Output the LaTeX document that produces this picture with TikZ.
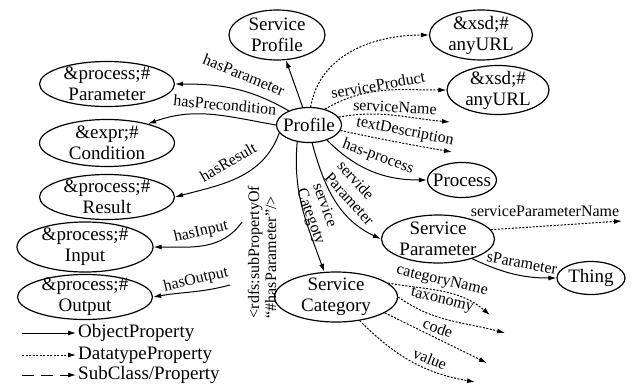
\documentclass[tikz,border=0pt]{standalone}
\usepackage{fontspec}
\setmainfont{Liberation Serif}
\usepackage{tikz}
\usetikzlibrary{shapes.geometric,arrows.meta}

\newcommand{\entsize}{\fontsize{19}{21}\selectfont}
\newcommand{\lblsize}{\fontsize{16}{17}\selectfont}

\begin{document}
\begin{tikzpicture}[x=1pt, y=1pt,
	ent/.style={ellipse, draw, line width=1.2pt, inner xsep=-8pt, inner ysep=-8pt, align=center, font=\entsize},
	lbl/.style={inner sep=0pt, font=\lblsize},
	obj/.style={line width=1pt, -{Latex[length=8pt, width=5pt]}},
	dat/.style={line width=1pt, dash pattern=on 2pt off 1.5pt, -{Latex[length=8pt, width=5pt]}},
	sub/.style={line width=1pt, dash pattern=on 12pt off 7pt, -{Latex[length=8pt, width=5pt]}}]
	\useasboundingbox (0,0) rectangle (640,-386);

	% classes
	\node[ent, minimum width=65pt, minimum height=35pt] (prof) at (309,-125) {Profile};
	\node[ent, minimum width=96pt, minimum height=50pt] (sprof) at (277,-35) {Service\\Profile};
	\node[ent, minimum width=135pt, minimum height=45pt] (par) at (107,-84) {\&process;\#\\Parameter};
	\node[ent, minimum width=135pt, minimum height=47pt] (cond) at (107,-143) {\&expr;\#\\Condition};
	\node[ent, minimum width=135pt, minimum height=45pt] (res) at (107,-197) {\&process;\#\\Result};
	\node[ent, minimum width=136pt, minimum height=50pt] (inp) at (85,-247) {\&process;\#\\Input};
	\node[ent, minimum width=135pt, minimum height=45pt] (outp) at (85,-297) {\&process;\#\\Output};
	\node[ent, minimum width=103pt, minimum height=50pt] (url1) at (481,-35) {\&xsd;\#\\anyURL};
	\node[ent, minimum width=102pt, minimum height=49pt] (url2) at (498,-90) {\&xsd;\#\\anyURL};
	\node[ent, minimum width=69pt, minimum height=35pt] (proc) at (462,-180) {Process};
	\node[ent, minimum width=113pt, minimum height=48pt] (spar) at (438,-239) {Service\\Parameter};
	\node[ent, minimum width=68pt, minimum height=33pt] (thing) at (591,-278) {Thing};
	\node[ent, minimum width=123pt, minimum height=50pt] (scat) at (336,-297) {Service\\Category};

	% free ends
	\coordinate (inS) at (242,-222);
	\coordinate (outS) at (230,-285);
	\coordinate (sname) at (450,-122);
	\coordinate (tdesc) at (452,-152);
	\coordinate (spname) at (622,-221);
	\coordinate (cname) at (490,-315);
	\coordinate (taxo) at (505,-333);
	\coordinate (codeE) at (487,-363);
	\coordinate (valE) at (475,-382);

	% object properties
	\draw[obj] (prof) -- (sprof);
	\draw[obj] (prof.145) to[out=150, in=0] (par.east);
	\draw[obj] (prof.west) to[out=170, in=20] (cond.25);
	\draw[obj] (prof.195) to[out=250, in=15] (res.east);
	\draw[obj] (inS) to[out=235, in=0] (inp.east);
	\draw[obj] (outS) to[out=195, in=10] (outp.east);
	\draw[obj] (prof.235) to[out=265, in=110] (scat.115);
	\draw[obj] (prof.280) to[out=285, in=155] (spar.west);
	\draw[obj] (prof.320) to[out=-45, in=180] (proc.west);
	\draw[obj] (spar.330) to[out=-25, in=180] (thing.west);

	% datatype properties
	\draw[dat] (prof.85) to[out=80, in=180] (url1.west);
	\draw[dat] (prof.45) to[out=30, in=180] (url2.west);
	\draw[dat] (prof.15) to[out=10, in=175] (sname);
	\draw[dat] (prof.350) to[out=-12, in=170] (tdesc);
	\draw[dat] (spar.10) -- (spname);
	\draw[dat] (scat.15) to[out=-10, in=140] (cname);
	\draw[dat] (scat.east) to[out=-35, in=165] (taxo);
	\draw[dat] (scat.-18) -- (codeE);
	\draw[dat] (scat.315) to[out=-45, in=170] (valE);

	% labels
	\node[lbl, rotate=-22] (lPar) at (244,-75) {hasParameter};
	\node[lbl, rotate=-5] (lCond) at (225,-105) {hasPrecondition};
	\node[lbl, rotate=30] (lRes) at (228,-162) {hasResult};
	\node[lbl, rotate=13] (lIn) at (201,-232) {hasInput};
	\node[lbl, rotate=13] (lOut) at (196,-280) {hasOutput};
	\node[lbl, rotate=90, align=left] (lSub) at (262,-252) {<rdfs:subPropertyOf\\“\#hasParameter”/>};
	\node[lbl, rotate=-70, align=left] (lCat) at (318,-214) {service\\Categoty};
	\node[lbl, rotate=-48, align=left] (lSPar) at (356,-193) {servide\\Parameter};
	\node[lbl, rotate=-20] (lProc) at (378,-157) {has-process};
	\node[lbl, rotate=10] (lProd) at (378,-85) {serviceProduct};
	\node[lbl, rotate=-3] (lName) at (395,-107) {serviceName};
	\node[lbl, rotate=-11] (lDesc) at (405,-132) {textDescription};
	\node[lbl] (lSPN) at (545,-211) {serviceParameterName};
	\node[lbl, rotate=-10] (lSP) at (522,-263) {sParameter};
	\node[lbl, rotate=-13] (lCName) at (442,-281) {categoryName};
	\node[lbl, rotate=-14] (lTax) at (442,-301) {taxonomy};
	\node[lbl, rotate=-20] (lCode) at (438,-328) {code};
	\node[lbl, rotate=-22] (lVal) at (430,-359) {value};

	% legend
	\coordinate (lg1) at (22,-333);
	\coordinate (lg2) at (22,-355);
	\coordinate (lg3) at (22,-375);
	\node[anchor=west, inner sep=2pt, font=\entsize] (lgObj) at (76,-333) {ObjectProperty};
	\node[anchor=west, inner sep=2pt, font=\entsize] (lgDat) at (76,-355) {DatatypeProperty};
	\node[anchor=west, inner sep=2pt, font=\entsize] (lgSub) at (76,-375) {SubClass/Property};
	\draw[obj] (lg1) -- (lgObj.west);
	\draw[dat] (lg2) -- (lgDat.west);
	\draw[sub] (lg3) -- (lgSub.west);
\end{tikzpicture}
\end{document}
